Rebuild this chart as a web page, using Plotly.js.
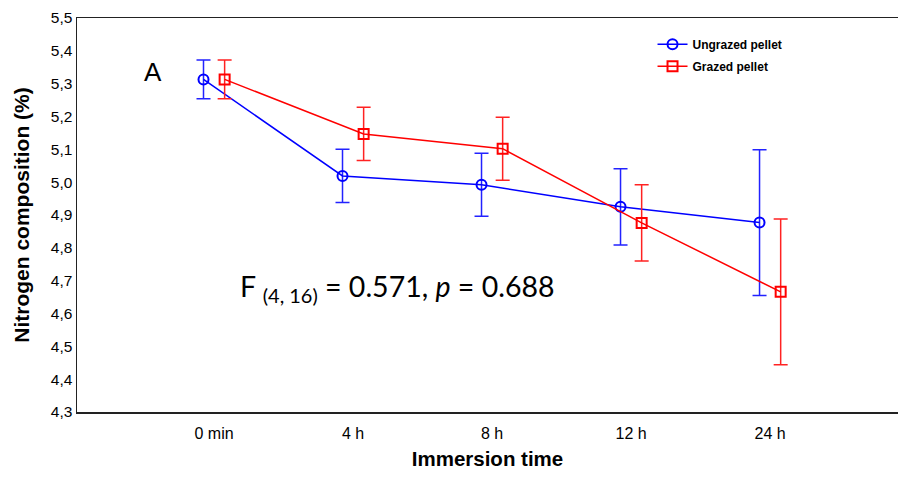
<!DOCTYPE html>
<html>
<head>
<meta charset="utf-8">
<script src="https://cdn.plot.ly/plotly-3.0.1.min.js"></script>
<style>html,body{margin:0;padding:0;background:#fff;}#chart{width:898px;height:479px;}</style>
</head>
<body>
<div id="chart"></div>
<script>
const categories = ["0 min", "4 h", "8 h", "12 h", "24 h"];
const ungrazedMean = [5.313, 5.019, 4.992, 4.925, 4.877];
const ungrazedErr  = [0.059, 0.081, 0.096, 0.116, 0.222];
const grazedMean   = [5.313, 5.147, 5.102, 4.876, 4.666];
const grazedErr    = [0.059, 0.081, 0.096, 0.116, 0.222];
const seriesNames  = ["Ungrazed pellet", "Grazed pellet"];

const traces = [
  {
    type: "scatter", mode: "lines+markers", name: seriesNames[0], legendgroup: "u",
    x: categories, y: ungrazedMean,
    line: {color: "#0000ff", width: 1.5},
    marker: {symbol: "circle-open", size: 10, color: "#0000ff", line: {width: 2}},
    error_y: {type: "data", array: ungrazedErr, visible: true, color: "#2222ff", thickness: 1.5, width: 7}
  },
  {
    type: "scatter", mode: "lines+markers", name: seriesNames[1], legendgroup: "g",
    x: categories, y: grazedMean,
    line: {color: "#ff0000", width: 1.5},
    marker: {symbol: "square-open", size: 10, color: "#ff0000", line: {width: 2}},
    error_y: {type: "data", array: grazedErr, visible: true, color: "#ff2222", thickness: 1.5, width: 7}
  }
];

const layout = {
  width: 898, height: 479,
  margin: {l: 77, r: 0, t: 18, b: 67},
  paper_bgcolor: "#fff", plot_bgcolor: "#fff",
  separators: ",.",
  scattermode: "group",
  scattergap: 0.696,
  showlegend: true,
  legend: {
    x: 0.701, y: 0.97, xanchor: "left", yanchor: "top",
    font: {family: "Liberation Sans, Arial, sans-serif", size: 12, color: "#000", weight: "bold"},
    bgcolor: "rgba(0,0,0,0)", itemwidth: 30, tracegroupgap: 3
  },
  xaxis: {
    type: "category",
    range: [-0.986, 4.92],
    showgrid: false, zeroline: false,
    showline: true, linecolor: "#222", linewidth: 1.5, mirror: true,
    ticks: "",
    ticklabelstandoff: 6,
    tickfont: {family: "Liberation Sans, Arial, sans-serif", size: 16, color: "#000"},
    title: {text: "Immersion time", font: {family: "Liberation Sans, Arial, sans-serif", size: 20.5, color: "#000", weight: "bold"}, standoff: 11}
  },
  yaxis: {
    range: [4.3, 5.5],
    dtick: 0.1, tickformat: ".1f",
    showgrid: false, zeroline: false,
    showline: true, linecolor: "#222", linewidth: 1.5,
    ticks: "",
    ticklabelstandoff: 0,
    tickfont: {family: "Liberation Sans, Arial, sans-serif", size: 15.5, color: "#000"},
    title: {text: "Nitrogen composition (%)", font: {family: "Liberation Sans, Arial, sans-serif", size: 21, color: "#000", weight: "bold"}, standoff: 15}
  },
  annotations: [
    {xref: "paper", yref: "paper", x: 0.092, y: 0.862, xanchor: "center", yanchor: "middle",
     text: "A", showarrow: false, font: {family: "Liberation Sans, Arial, sans-serif", size: 26, color: "#000"}},
    {xref: "paper", yref: "paper", x: 0.196, y: 0.315, xanchor: "left", yanchor: "middle",
     text: "F <sub>(4, 16)</sub> = 0.571, <i>p</i> = 0.688", showarrow: false,
     font: {family: "Lato, Carlito, Calibri, sans-serif", size: 28.5, color: "#000"}}
  ]
};

Plotly.newPlot("chart", traces, layout, {displayModeBar: false, staticPlot: true});
</script>
</body>
</html>
